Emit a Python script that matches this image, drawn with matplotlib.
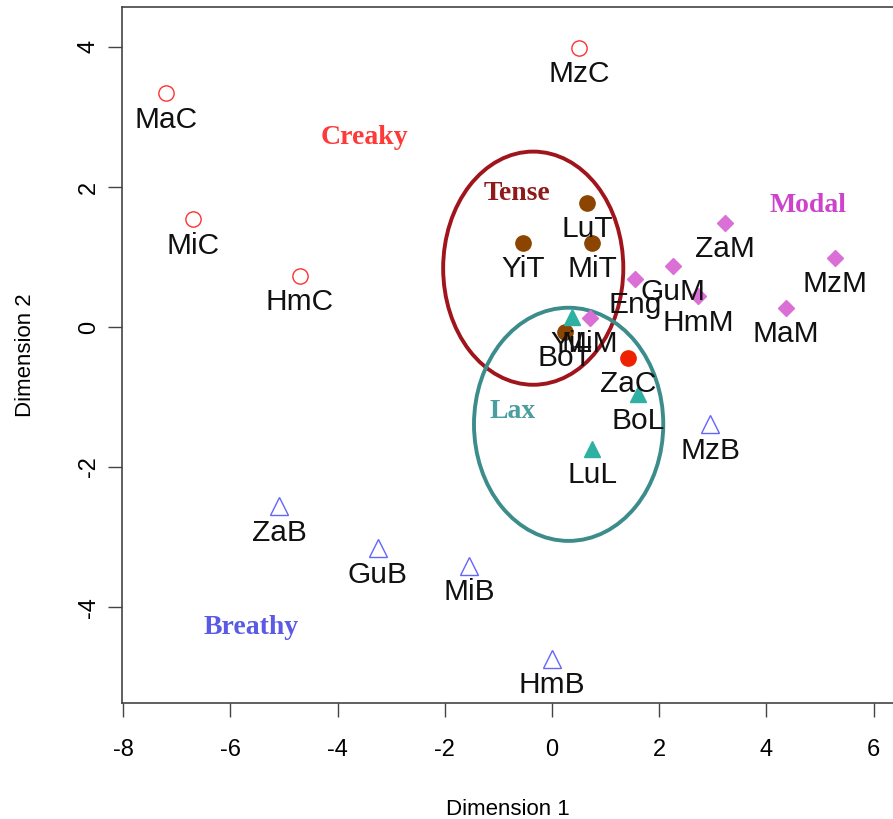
"""MDS plot of phonation types: two dimensions, one marker style per group."""

import matplotlib
matplotlib.use("Agg")
import matplotlib.pyplot as plt
from matplotlib.patches import Ellipse

# ── Data ──────────────────────────────────────────────────────────────────────
creaky_names = ["MaC", "MzC", "MiC", "HmC"]
creaky_x     = [-7.20, 0.50, -6.70, -4.70]
creaky_y     = [3.34, 3.99, 1.54, 0.73]

zac_names = ["ZaC"]
zac_x     = [1.42]
zac_y     = [-0.44]

tense_names = ["LuT", "YiT", "MiT", "BoT"]
tense_x     = [0.65, -0.54, 0.75, 0.24]
tense_y     = [1.77, 1.20, 1.20, -0.07]

lax_names = ["YiL", "BoL", "LuL"]
lax_x     = [0.37, 1.60, 0.75]
lax_y     = [0.14, -0.96, -1.74]

modal_names = ["Eng", "GuM", "ZaM", "HmM", "MzM", "MaM", "MiM"]
modal_x     = [1.55, 2.26, 3.23, 2.72, 5.28, 4.37, 0.71]
modal_y     = [0.69, 0.87, 1.49, 0.44, 0.99, 0.27, 0.13]

breathy_names = ["MzB", "ZaB", "GuB", "MiB", "HmB"]
breathy_x     = [2.95, -5.09, -3.25, -1.55, 0.00]
breathy_y     = [-1.39, -2.56, -3.16, -3.41, -4.74]

group_labels = ["Creaky", "Tense", "Modal", "Lax", "Breathy"]
group_x      = [-3.49, -0.65, 4.78, -0.73, -5.62]
group_y      = [2.71, 1.91, 1.74, -1.21, -4.29]
group_colors = ["#FF3838", "#8E1A1A", "#CC44CC", "#4A9E9E", "#5A5AE6"]

# ellipses: centre x, centre y, width, height
ellipse_cx = [-0.35, 0.31]
ellipse_cy = [0.84, -1.39]
ellipse_w  = [3.36, 3.53]
ellipse_h  = [3.33, 3.33]
ellipse_colors = ["#A0141C", "#3C8C8C"]

SANS  = ["Liberation Sans", "DejaVu Sans"]
SERIF = ["Liberation Serif", "DejaVu Serif"]

fig = plt.figure(figsize=(8.93, 8.19), dpi=100)
ax = fig.add_axes([122 / 893, 116 / 819, 1 - 122 / 893, 696 / 819])


def _points(xs, ys, names, **style):
    ax.plot(xs, ys, linestyle="none", zorder=3, **style)
    for x, y, n in zip(xs, ys, names):
        ax.annotate(n, (x, y), xytext=(0, -19), textcoords="offset points",
                    ha="center", va="center", fontsize=21.5, family=SANS,
                    color="#111111", zorder=4)


_points(creaky_x, creaky_y, creaky_names, marker="o", markersize=11,
        markerfacecolor="none", markeredgecolor="#FF3030", markeredgewidth=1.0)
_points(tense_x, tense_y, tense_names, marker="o", markersize=11,
        markerfacecolor="#8B4500", markeredgecolor="#8B4500")
_points(lax_x, lax_y, lax_names, marker="^", markersize=12,
        markerfacecolor="#2EB0A2", markeredgecolor="#2EB0A2")
_points(modal_x, modal_y, modal_names, marker="D", markersize=8,
        markerfacecolor="#DA70D6", markeredgecolor="#DA70D6")
_points(zac_x, zac_y, zac_names, marker="o", markersize=11,
        markerfacecolor="#EE2200", markeredgecolor="#EE2200")
_points(breathy_x, breathy_y, breathy_names, marker="^", markersize=13,
        markerfacecolor="none", markeredgecolor="#6464FF", markeredgewidth=1.0)

for cx, cy, w, h, c in zip(ellipse_cx, ellipse_cy, ellipse_w, ellipse_h, ellipse_colors):
    ax.add_patch(Ellipse((cx, cy), w, h, fill=False, edgecolor=c, linewidth=2.8, zorder=2))

for lbl, x, y, c in zip(group_labels, group_x, group_y, group_colors):
    ax.text(x, y, lbl, ha="center", va="center", fontsize=20, fontweight="bold",
            family=SERIF, color=c, zorder=5)

ax.set_xlim(-8.02, 6.36)
ax.set_ylim(-5.37, 4.57)
ax.set_xticks([-8, -6, -4, -2, 0, 2, 4, 6])
ax.set_yticks([-4, -2, 0, 2, 4])
ax.set_xticklabels(["-8", "-6", "-4", "-2", "0", "2", "4", "6"], family=SANS, fontsize=17)
ax.set_yticklabels(["-4", "-2", "0", "2", "4"], family=SANS, fontsize=17,
                   rotation=90, va="center")
ax.tick_params(axis="both", direction="out", length=10, width=1, color="#444444")
ax.tick_params(axis="x", pad=16)
ax.tick_params(axis="y", pad=6)
for side in ["left", "bottom", "top"]:
    ax.spines[side].set_color("#444444")
    ax.spines[side].set_linewidth(1.2)
ax.spines["right"].set_visible(False)

ax.set_xlabel("Dimension 1", family=SANS, fontsize=16, labelpad=27)
ax.set_ylabel("Dimension 2", family=SANS, fontsize=16, labelpad=30)

fig.savefig("out.png", dpi=100)
